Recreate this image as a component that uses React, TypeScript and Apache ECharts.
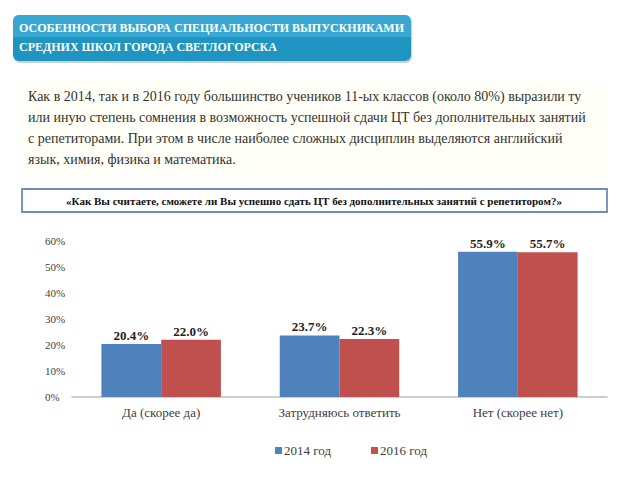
import React, { useEffect, useRef } from "react";
import * as echarts from "echarts";

const categories = ["Да (скорее да)", "Затрудняюсь ответить", "Нет (скорее нет)"];
const series2014 = [20.4, 23.7, 55.9];
const series2016 = [22.0, 22.3, 55.7];
const seriesNames = ["2014 год", "2016 год"];
const titleLines = [
  "ОСОБЕННОСТИ ВЫБОРА СПЕЦИАЛЬНОСТИ ВЫПУСКНИКАМИ",
  "СРЕДНИХ ШКОЛ ГОРОДА СВЕТЛОГОРСКА",
];
const paragraphLines = [
  "Как в 2014, так и в 2016 году большинство учеников 11-ых классов (около 80%) выразили ту",
  "или иную степень сомнения в возможность успешной сдачи ЦТ без дополнительных занятий",
  "с репетиторами. При этом в числе наиболее сложных дисциплин выделяются английский",
  "язык, химия, физика и математика.",
];
const question =
  "«Как Вы считаете, сможете ли Вы успешно сдать ЦТ без дополнительных занятий с репетитором?»";

const SERIF = "serif";

export default function App() {
  const ref = useRef<HTMLDivElement>(null);
  useEffect(() => {
    if (!ref.current) return;
    const chart = echarts.init(ref.current, undefined, { renderer: "svg" });
    const labelOpt = {
      show: true,
      position: "top",
      distance: 2,
      formatter: (p: any) => p.value.toFixed(1) + "%",
      fontFamily: SERIF,
      fontSize: 13,
      fontWeight: "bold",
      color: "#222222",
    };
    chart.setOption({
      animation: false,
      textStyle: { fontFamily: SERIF },
      graphic: [
        {
          type: "rect",
          shape: { x: 14, y: 17, width: 398, height: 46, r: 6 },
          style: { fill: "#c8d3d8" },
        },
        {
          type: "rect",
          shape: { x: 13, y: 15, width: 398, height: 46, r: 6 },
          style: { fill: "#2094c0" },
        },
        {
          type: "rect",
          shape: { x: 13, y: 15, width: 398, height: 22, r: [6, 6, 0, 0] },
          style: { fill: "#4ab6dd", opacity: 0.6 },
        },
        ...titleLines.map((t, i) => ({
          type: "text",
          x: 19,
          y: 22 + i * 19,
          style: {
            text: t,
            fill: "#ffffff",
            fontFamily: SERIF,
            fontSize: 12,
            fontWeight: "bold",
          },
        })),
        {
          type: "rect",
          shape: { x: 22, y: 82, width: 586, height: 94 },
          style: { fill: "#fffff7" },
        },
        ...paragraphLines.map((t, i) => ({
          type: "text",
          x: 28,
          y: 89 + i * 21.3,
          style: {
            text: t,
            fill: "#333333",
            fontFamily: SERIF,
            fontSize: 14,
          },
        })),
        {
          type: "rect",
          shape: { x: 22, y: 189, width: 585, height: 23 },
          style: { fill: "#ffffff", stroke: "#6d8dbf", lineWidth: 1.8 },
        },
        {
          type: "text",
          x: 314,
          y: 195,
          style: {
            text: question,
            fill: "#111111",
            fontFamily: SERIF,
            fontSize: 11,
            fontWeight: "bold",
            align: "center",
          },
        },
      ],
      legend: {
        left: 270,
        top: 439,
        itemWidth: 7,
        itemHeight: 7,
        itemGap: 40,
        icon: "rect",
        textStyle: { fontFamily: SERIF, fontSize: 13, color: "#404040", padding: [0, 0, 0, -3] },
        data: seriesNames,
      },
      grid: { left: 72, right: 33, top: 241, bottom: 83 },
      xAxis: {
        type: "category",
        data: categories,
        axisLine: { lineStyle: { color: "#bfbfbf", width: 1.5 } },
        axisTick: { show: false },
        axisLabel: { fontFamily: SERIF, fontSize: 13, color: "#404040", margin: 9 },
      },
      yAxis: {
        type: "value",
        min: 0,
        max: 60,
        interval: 10,
        splitLine: { show: false },
        axisLine: { show: false },
        axisTick: { show: false },
        axisLabel: {
          fontFamily: SERIF,
          fontSize: 11,
          color: "#404040",
          align: "left",
          margin: 27,
          formatter: "{value}%",
        },
      },
      series: [
        {
          name: seriesNames[0],
          type: "bar",
          data: series2014,
          barGap: "0%",
          barCategoryGap: "33%",
          itemStyle: { color: "#4f81bd" },
          label: labelOpt,
        },
        {
          name: seriesNames[1],
          type: "bar",
          data: series2016,
          itemStyle: { color: "#c0504d" },
          label: labelOpt,
        },
      ],
    });
    return () => chart.dispose();
  }, []);
  return (
    <div
      ref={ref}
      style={{ width: 640, height: 480, position: "absolute", left: 0, top: 0, background: "#ffffff" }}
    />
  );
}
